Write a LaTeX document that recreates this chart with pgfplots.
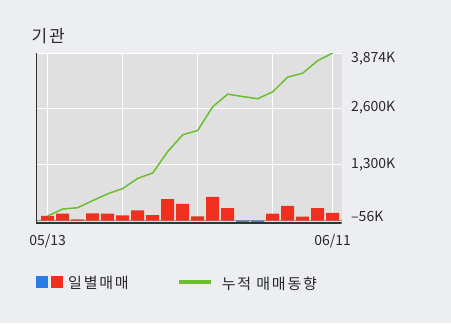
\documentclass[border=0pt]{standalone}
\usepackage{pgfplots}
\pgfplotsset{compat=1.18}
\usepackage{fontspec}
\setmainfont{Noto Sans CJK KR}
\newfontfamily\legfont[LetterSpace=12]{Noto Sans CJK KR}
\definecolor{bgc}{RGB}{237,238,242}
\definecolor{plotbg}{RGB}{224,224,224}
\definecolor{barred}{RGB}{240,48,30}
\definecolor{barblue}{RGB}{74,124,203}
\definecolor{legblue}{RGB}{43,123,228}
\definecolor{linegreen}{RGB}{106,190,48}
\definecolor{axisdark}{RGB}{51,51,51}
\definecolor{zerogrey}{RGB}{150,150,150}
\definecolor{txt}{RGB}{40,40,40}
\begin{document}
\begin{tikzpicture}[x=1bp,y=1bp]
\fill[bgc] (0,0) rectangle (451,323);
\begin{axis}[
  at={(36bp,100bp)}, anchor=south west,
  width=305.7bp, height=170bp, scale only axis,
  xmin=-0.78, xmax=19.6,
  ymin=-56, ymax=3874,
  axis background/.style={fill=plotbg},
  axis line style={draw=none},
  major tick length=0pt,
  xtick={0,5,10,15,19},
  xticklabels={05/13,,,,06/11},
  ytick={-56,1300,2600,3874},
  yticklabels={{–56K},{1,300K},{2,600K},{3,874K}},
  yticklabel pos=right,
  grid=major,
  major grid style={white, line width=1bp},
  extra y ticks={0},
  extra y tick labels={},
  extra y tick style={grid=major, major grid style={zerogrey, line width=1.5bp}},
  every tick label/.append style={font=\fontsize{14bp}{16bp}\selectfont, text=txt},
  xticklabel style={yshift=-8bp},
  yticklabel style={anchor=west, xshift=6bp, yshift={ifthenelse(\ticknum==0,7,ifthenelse(\ticknum==3,-6,0))}},
  title={기관},
  title style={at={(0,1)}, anchor=south west, xshift=-8bp, yshift=0bp, font=\legfont\fontsize{17bp}{19bp}\selectfont, text=txt},
  legend columns=2,
  legend cell align=left,
  legend style={at={(0,-0.29)}, anchor=north west, draw=none, fill=none, xshift=-3bp,
    font=\legfont\fontsize{15bp}{17bp}\selectfont, text=txt,
    /tikz/every even column/.append style={column sep=46bp}},
]
\addplot[ybar, bar width=13bp, fill=barblue, draw=none, forget plot]
  coordinates {(13,-56) (14,-50)};
\addplot[ybar, bar width=13bp, fill=barred, draw=none,
  legend image code/.code={
    \fill[legblue] (0bp,-5bp) rectangle (12bp,7bp);
    \fill[barred] (15bp,-5bp) rectangle (27bp,7bp);
    \path[draw=none,fill=none] (0bp,1bp) -- (30bp,1bp);}]
  coordinates {(0,107) (1,160) (2,30) (3,165) (4,158) (5,120) (6,235) (7,125)
    (8,495) (9,388) (10,100) (11,550) (12,290) (15,160) (16,340) (17,90)
    (18,290) (19,177)};
\addlegendentry{일별매매}
\addplot[linegreen, line width=1.5bp, mark=none,
  legend image code/.code={
    \draw[linegreen, line width=4bp] (0bp,1bp) -- (32bp,1bp);
    \path[draw=none,fill=none] (0bp,1bp) -- (41bp,1bp);}]
  coordinates {(0,107) (1,267) (2,297) (3,462) (4,620) (5,740) (6,975) (7,1100)
    (8,1595) (9,1983) (10,2083) (11,2633) (12,2923) (13,2867) (14,2817)
    (15,2977) (16,3317) (17,3407) (18,3697) (19,3874)};
\addlegendentry{누적 매매동향}
\draw[axisdark, line width=2bp] (rel axis cs:0,1) -- (rel axis cs:0,0) -- (rel axis cs:1,0);
\end{axis}
\end{tikzpicture}
\end{document}
